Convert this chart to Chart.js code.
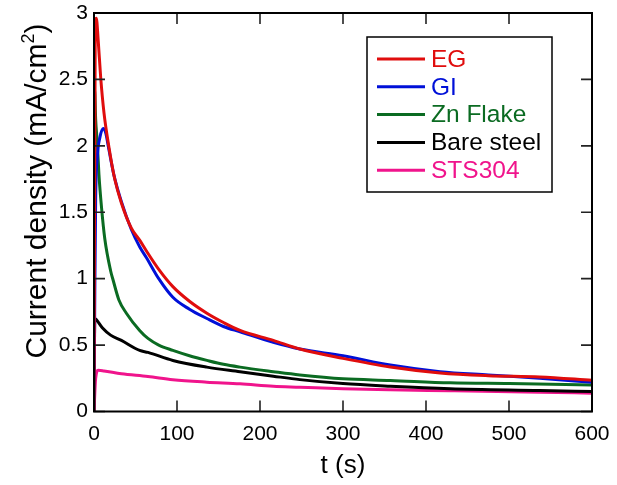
<!DOCTYPE html>
<html>
<head>
<meta charset="utf-8">
<script src="https://cdn.jsdelivr.net/npm/chart.js@4"></script>
<style>
body{margin:0;background:#fff;}
canvas{display:block;}
</style>
</head>
<body>
<canvas id="chart" width="617" height="485"></canvas>
<script>
// time (s) and current density (mA/cm2)
const egT = [0, 1.5, 2.8, 5, 8, 12, 18, 25, 33, 45, 55, 63, 78, 95, 115, 136, 156, 176, 216, 248, 300, 357, 417, 475, 537, 600];
const egJ = [0, 2.9, 2.96, 2.8, 2.52, 2.25, 1.99, 1.75, 1.57, 1.38, 1.29, 1.21, 1.07, 0.94, 0.83, 0.74, 0.67, 0.61, 0.535, 0.47, 0.40, 0.335, 0.29, 0.27, 0.26, 0.235];

const giT = [0, 1, 2, 4, 7, 11, 14, 18, 24, 33, 45, 55, 63, 78, 95, 115, 136, 156, 176, 216, 248, 300, 357, 417, 475, 537, 600];
const giJ = [0, 0.9, 1.6, 1.92, 2.06, 2.13, 2.1, 1.97, 1.78, 1.58, 1.37, 1.24, 1.16, 1.0, 0.86, 0.77, 0.70, 0.64, 0.60, 0.52, 0.47, 0.42, 0.35, 0.30, 0.275, 0.25, 0.22];

const znT = [0, 0.8, 2, 4, 6, 9, 13, 20, 23, 30, 39, 55, 65, 78, 95, 115, 136, 156, 176, 216, 248, 300, 357, 429, 500, 600];
const znJ = [0, 2.42, 2.2, 2.02, 1.78, 1.54, 1.3, 1.06, 0.99, 0.84, 0.74, 0.61, 0.55, 0.50, 0.46, 0.42, 0.385, 0.355, 0.334, 0.30, 0.275, 0.246, 0.234, 0.216, 0.21, 0.20];

const bareT = [0, 1, 3, 10, 20, 33, 55, 65, 95, 136, 176, 216, 248, 300, 357, 429, 537, 600];
const bareJ = [0, 0.70, 0.69, 0.63, 0.575, 0.535, 0.46, 0.445, 0.384, 0.334, 0.30, 0.266, 0.24, 0.21, 0.19, 0.171, 0.158, 0.15];

const stsT = [0, 2, 5, 12, 33, 65, 95, 136, 176, 216, 248, 300, 357, 429, 537, 600];
const stsJ = [0, 0.25, 0.31, 0.305, 0.284, 0.264, 0.239, 0.221, 0.209, 0.19, 0.183, 0.171, 0.163, 0.156, 0.145, 0.138];

const seriesNames = ['EG', 'GI', 'Zn Flake', 'Bare steel', 'STS304'];
const seriesColors = ['#e00d0d', '#0010d8', '#0b6b22', '#000000', '#f0148c'];
const seriesT = [egT, giT, znT, bareT, stsT];
const seriesJ = [egJ, giJ, znJ, bareJ, stsJ];

const xTicks = [0, 100, 200, 300, 400, 500, 600];
const yTicks = [0, 0.5, 1, 1.5, 2, 2.5, 3];

const FONT = '"Liberation Sans", Arial, sans-serif';

function toPoints(ts, js) {
    return ts.map((t, i) => ({x: t, y: js[i]}));
}

const datasets = seriesNames.map((name, i) => ({
    label: name,
    data: toPoints(seriesT[i], seriesJ[i]),
    borderColor: seriesColors[i],
    backgroundColor: seriesColors[i],
    borderWidth: 3,
    pointRadius: 0,
    cubicInterpolationMode: 'monotone',
    fill: false
}));

// box, inward ticks on all four sides
const frameTicks = {
    id: 'frameTicks',
    afterDatasetsDraw(chart) {
        const {ctx, chartArea: a, scales: {x, y}} = chart;
        ctx.save();
        ctx.strokeStyle = '#222';
        ctx.lineWidth = 1.6;
        ctx.beginPath();
        x.ticks.forEach(t => {
            const px = x.getPixelForValue(t.value);
            ctx.moveTo(px, a.bottom); ctx.lineTo(px, a.bottom - 11);
            ctx.moveTo(px, a.top); ctx.lineTo(px, a.top + 11);
        });
        y.ticks.forEach(t => {
            const py = y.getPixelForValue(t.value);
            ctx.moveTo(a.left, py); ctx.lineTo(a.left + 11, py);
            ctx.moveTo(a.right, py); ctx.lineTo(a.right - 11, py);
        });
        ctx.stroke();
        ctx.strokeStyle = '#000';
        ctx.lineWidth = 2;
        ctx.strokeRect(a.left, a.top, a.width, a.height);
        ctx.restore();
    }
};

// y title with a raised 2, drawn by hand
const yTitle = {
    id: 'yTitle',
    afterDraw(chart) {
        const ctx = chart.ctx;
        const main = 'Current density (mA/cm', sup = '2', tail = ')';
        ctx.save();
        ctx.translate(46, 191);
        ctx.rotate(-Math.PI / 2);
        ctx.fillStyle = '#000';
        ctx.textBaseline = 'alphabetic';
        ctx.textAlign = 'left';
        ctx.font = '30px ' + FONT;
        const wMain = ctx.measureText(main).width, wTail = ctx.measureText(tail).width;
        ctx.font = '18px ' + FONT;
        const wSup = ctx.measureText(sup).width;
        let x0 = -(wMain + wSup + wTail) / 2;
        ctx.font = '30px ' + FONT;
        ctx.fillText(main, x0, 0);
        ctx.font = '18px ' + FONT;
        ctx.fillText(sup, x0 + wMain, -12);
        ctx.font = '30px ' + FONT;
        ctx.fillText(tail, x0 + wMain + wSup, 0);
        ctx.restore();
    }
};

// framed legend in the upper right
const boxLegend = {
    id: 'boxLegend',
    afterDraw(chart) {
        const ctx = chart.ctx;
        const bx = 367, by = 37, bw = 185, bh = 155;
        ctx.save();
        ctx.fillStyle = '#fff';
        ctx.fillRect(bx, by, bw, bh);
        ctx.strokeStyle = '#000';
        ctx.lineWidth = 1.5;
        ctx.strokeRect(bx, by, bw, bh);
        ctx.font = '24.5px ' + FONT;
        ctx.textBaseline = 'middle';
        ctx.textAlign = 'left';
        chart.data.datasets.forEach((ds, i) => {
            const ly = 59 + i * 27.8;
            ctx.strokeStyle = ds.borderColor;
            ctx.lineWidth = 3;
            ctx.beginPath();
            ctx.moveTo(377, ly);
            ctx.lineTo(425, ly);
            ctx.stroke();
            ctx.fillStyle = ds.borderColor;
            ctx.fillText(ds.label, 431, ly + 1);
        });
        ctx.restore();
    }
};

const chart = new Chart(document.getElementById('chart'), {
    type: 'line',
    data: {datasets: datasets},
    options: {
        responsive: false,
        animation: false,
        layout: {padding: {top: 13, right: 25, left: 0, bottom: 0}},
        plugins: {legend: {display: false}, tooltip: {enabled: false}},
        scales: {
            x: {
                type: 'linear',
                min: 0, max: 600,
                grid: {display: false, tickLength: 8},
                border: {display: false},
                afterBuildTicks: s => { s.ticks = xTicks.map(v => ({value: v})); },
                afterFit: s => { s.height = 73.5; },
                ticks: {color: '#000', padding: 2, maxRotation: 0, font: {family: FONT, size: 21}},
                title: {display: true, text: 't (s)', color: '#000', padding: {top: 0, bottom: 4}, font: {family: FONT, size: 26}}
            },
            y: {
                type: 'linear',
                min: 0, max: 3,
                grid: {display: false, tickLength: 6},
                border: {display: false},
                afterBuildTicks: s => { s.ticks = yTicks.map(v => ({value: v})); },
                afterFit: s => { s.width = 94; },
                ticks: {color: '#000', padding: 0, font: {family: FONT, size: 21}, callback: v => String(v)}
            }
        }
    },
    plugins: [frameTicks, yTitle, boxLegend]
});
</script>
</body>
</html>
